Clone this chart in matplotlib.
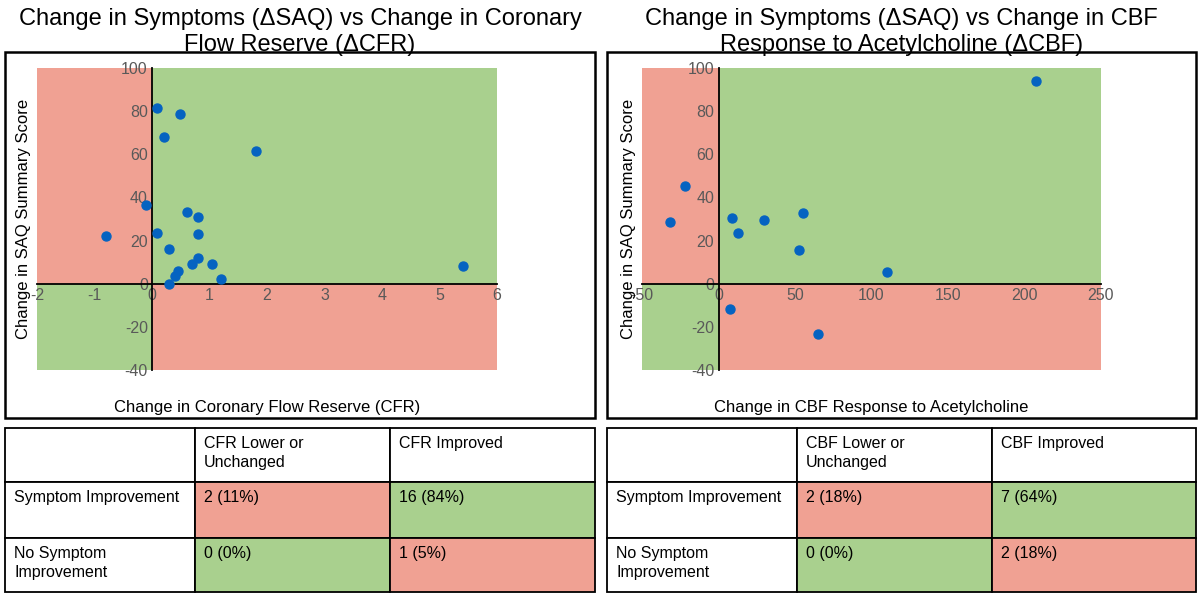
import matplotlib.pyplot as plt
from matplotlib.patches import Rectangle

plt.rcParams['font.family'] = ['Liberation Sans', 'DejaVu Sans']
plt.rcParams['axes.unicode_minus'] = False

cfr_x = [0.09, 0.49, 0.2, 1.8, -0.1, 0.6, 0.8, 0.09, 0.8, -0.8, 0.3, 0.8, 0.7, 1.05, 5.4, 0.45, 0.4, 1.2, 0.3]
cfr_y = [81.3, 78.6, 68, 61.6, 36.7, 33.3, 31, 23.7, 23.2, 22.1, 16.2, 12, 9.3, 9.3, 8, 6, 3.7, 2.2, 0]
cbf_x = [207.5, -22, -31.4, 9, 30, 55, 13, 52.7, 110.4, 7.2, 65]
cbf_y = [94, 45.2, 28.8, 30.3, 29.5, 33, 23.7, 15.8, 5.4, -11.6, -23.5]

cfr_table = [["", "CFR Lower or\nUnchanged", "CFR Improved"],
             ["Symptom Improvement", "2 (11%)", "16 (84%)"],
             ["No Symptom\nImprovement", "0 (0%)", "1 (5%)"]]
cbf_table = [["", "CBF Lower or\nUnchanged", "CBF Improved"],
             ["Symptom Improvement", "2 (18%)", "7 (64%)"],
             ["No Symptom\nImprovement", "0 (0%)", "2 (18%)"]]

GREEN = '#a9d08e'
RED = '#f0a193'
DOT = '#0563c1'
W, H = 1200, 597

fig = plt.figure(figsize=(12, 5.97), dpi=100)


def fx(px):
    return px / W


def fy(py):
    return 1 - py / H


def panel(box_x0, box_x1, ax_x0, ax_x1, xs, ys, xlim, xticks, xlabel, title, table):
    # outer frame
    fig.add_artist(Rectangle((fx(box_x0), fy(418)), fx(box_x1 - box_x0), (418 - 52) / H,
                             fill=False, lw=1.8, ec='black', transform=fig.transFigure))
    fig.text(fx((box_x0 + box_x1) / 2), fy(32), title, ha='center', va='center', fontsize=17,
             linespacing=1.2)
    ax = fig.add_axes([fx(ax_x0), fy(370), fx(ax_x1 - ax_x0), (370 - 68) / H])
    ax.set_xlim(*xlim)
    ax.set_ylim(-40, 100)
    ax.add_patch(Rectangle((xlim[0], 0), -xlim[0], 100, color=RED, lw=0, zorder=0))
    ax.add_patch(Rectangle((0, 0), xlim[1], 100, color=GREEN, lw=0, zorder=0))
    ax.add_patch(Rectangle((xlim[0], -40), -xlim[0], 40, color=GREEN, lw=0, zorder=0))
    ax.add_patch(Rectangle((0, -40), xlim[1], 40, color=RED, lw=0, zorder=0))
    ax.scatter(xs, ys, s=42, color=DOT, zorder=3)
    for s in ['top', 'right']:
        ax.spines[s].set_visible(False)
    ax.spines['left'].set_position(('data', 0))
    ax.spines['bottom'].set_position(('data', 0))
    ax.spines['left'].set_linewidth(1.3)
    ax.spines['bottom'].set_linewidth(1.3)
    ax.set_xticks(xticks)
    ax.set_yticks(range(-40, 101, 20))
    ax.tick_params(length=0, labelsize=11.5, labelcolor='#595959', pad=3)
    ax.set_xlabel(xlabel, fontsize=12)
    ax.xaxis.set_label_coords(0.5, -0.1)
    ax.set_ylabel('Change in SAQ Summary Score', fontsize=12)
    ax.yaxis.set_label_coords(-0.012, 0.5)
    # table
    cols = [box_x0, box_x0 + 190, box_x0 + 385, box_x1]
    rows = [428, 482, 538, 592]
    colors = [[None, None, None], [None, RED, GREEN], [None, GREEN, RED]]
    for r in range(3):
        for c in range(3):
            fc = colors[r][c] or 'white'
            fig.add_artist(Rectangle((fx(cols[c]), fy(rows[r + 1])), fx(cols[c + 1] - cols[c]),
                                     (rows[r + 1] - rows[r]) / H, fc=fc, ec='black', lw=1.3,
                                     transform=fig.transFigure))
            fig.text(fx(cols[c] + 9), fy(rows[r] + 8), table[r][c], ha='left', va='top',
                     fontsize=11.5, linespacing=1.35)


panel(5, 595, 37, 497, cfr_x, cfr_y, (-2, 6), range(-2, 7),
      'Change in Coronary Flow Reserve (CFR)',
      'Change in Symptoms (ΔSAQ) vs Change in Coronary\nFlow Reserve (ΔCFR)', cfr_table)
panel(607, 1196, 642, 1101, cbf_x, cbf_y, (-50, 250), range(-50, 251, 50),
      'Change in CBF Response to Acetylcholine',
      'Change in Symptoms (ΔSAQ) vs Change in CBF\nResponse to Acetylcholine (ΔCBF)', cbf_table)

fig.savefig('out.png', dpi=100)
